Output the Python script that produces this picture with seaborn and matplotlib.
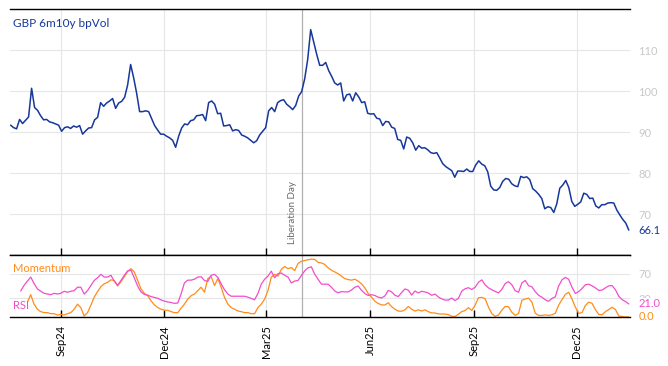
import matplotlib
matplotlib.use("Agg")
import matplotlib.pyplot as plt
import matplotlib.dates as mdates
import numpy as np
import pandas as pd
import seaborn as sns

# GBP 6m10y normal vol (roughly every 2-3 days)
vol = [
    91.7, 91.1, 90.8, 93.1, 92.1, 92.9, 93.7, 100.7, 96.0, 95.3, 94.0, 93.0, 93.1, 92.5,
    92.3, 92.0, 91.7, 90.2, 91.1, 91.3, 90.9, 91.5, 91.2, 91.6, 89.5, 90.3, 91.0, 91.1,
    93.0, 93.6, 97.2, 96.3, 97.1, 97.6, 98.2, 95.8, 97.1, 97.5, 98.5, 101.5, 106.5, 103.3,
    99.5, 95.0, 95.0, 95.2, 95.0, 93.3, 91.6, 90.5, 89.5, 89.5, 89.0,
    88.6, 88.0, 86.3, 89.0, 91.0, 92.0, 91.8, 92.8, 93.0, 94.0, 94.1, 94.3, 92.8, 97.2,
    97.6, 96.8, 94.5, 94.6, 91.5, 91.6, 91.8, 90.3, 90.6, 90.4, 89.3, 89.0, 88.6, 88.0,
    87.4, 87.9, 89.3, 90.2, 91.1, 95.2, 96.0, 95.0, 97.2, 97.7, 97.9, 96.8, 96.2, 95.5,
    96.5, 98.8, 99.9, 103.0, 107.7, 115.0, 112.0, 109.0, 106.3,
    106.3, 107.0, 105.0, 103.6, 102.0, 101.5, 102.0, 97.6, 99.1, 99.3, 97.6, 99.6, 98.6,
    97.2, 97.4, 94.6, 94.4, 94.5, 93.4, 93.2, 91.6, 92.6, 92.5, 91.2, 90.9, 88.2, 88.0,
    85.9, 88.8, 88.5, 87.4, 85.6, 86.7, 86.1, 86.2, 85.7, 85.0, 84.8, 85.0, 83.7, 82.3,
    81.6, 81.1, 80.6, 79.0, 80.5, 80.5, 80.4, 81.0,
    80.4, 80.4, 82.0, 83.0, 82.2, 81.8, 80.3, 76.8, 75.9, 75.8, 76.5, 78.0, 78.7, 78.5,
    77.4, 76.9, 76.7, 79.2, 78.9, 79.1, 78.4, 76.2, 75.6, 74.8, 73.8, 71.3, 71.8, 71.6,
    70.4, 72.5, 76.3, 77.1, 78.2, 76.5, 73.1, 71.9, 72.4, 73.0, 75.1, 74.8, 73.8, 73.9,
    72.0, 71.5, 72.3, 72.3, 72.7, 72.8, 72.7, 71.0, 69.8, 68.7, 67.8, 66.1,
]
vol_dates = pd.date_range("2024-07-18", "2026-01-16", periods=len(vol))

nan = np.nan
rsi = [
    nan, 42, 51, 58, 64.5, 54, 45.3, 41.5, 38.2, 37.1, 36.0, 38.2, 37.1, 38.2, 41.5, 39.9,
    41.5, 42.6, 48.1, 48, 37, 42.6, 50.8, 59.0, 63.4, 68.9, 64.5, 64.5, 67.3, 58, 51.3,
    59.0, 67.3, 74.4, 75.5, 63, 50, 40.4, 36.5, 35.2, 33.0, 31.6, 30.2, 27.5, 25.6, 24.2,
    23.4, 22, 22.5, 37.1, 55, 59.5, 59.5, 61, 64.5, 65, 59, 57.5, 67.3, 68.9, 64, 53.6,
    44, 37, 33.5, 33.5, 33.5, 33.5, 33.5, 32, 30, 27.8, 38, 53, 61, 66, 74, 63.4, 70.0,
    71.1, 67.3, 64.5, 55, 58, 59, 67, 74.5, 79.5, 81, 69,
    61, 53, 53, 53, 48, 42, 39, 41, 40.5, 40.5, 43.5, 48, 50, 43, 37.8, 34.8, 36, 34.7,
    32, 30.7, 34, 43, 40.6, 35, 33, 39.5, 45.3, 43.3, 35.4, 42, 38.8, 41.5, 40.4, 38.7,
    35, 37, 32.3, 29.2, 27.3, 27.2, 30.6, 26.5, 30, 41.7, 45.5, 47.3, 44.3, 48, 56, 60,
    52, 47, 44, 41.3, 39, 44.5, 54, 57.1, 52, 42.5, 40, 55, 59, 50.5, 48.7, 41, 35, 32,
    27.7, 25.3, 30, 32.5, 50, 60, 64, 61, 48, 38, 41, 46, 52, 53, 50.3, 47, 43, 43.4, 47,
    50.3, 50.7, 44, 33.5, 28, 25, 21.0,
]
momentum = [
    nan, nan, nan, 24, 36, 20.7, 12.5, 8.6, 7.0, 7.0, 5.3, 5.3, 3.1, 4.2, 3.1, 5.3, 7.0,
    12.5, 20.7, 15, 1.5, 7, 19, 32, 41, 49, 53.6, 56, 60, 59, 50, 57, 65, 73.5, 78, 72.7,
    59.0, 45.3, 38.2, 34.4, 26.2, 19.6, 15.2, 12.5, 10.8, 10.8, 8.6, 7.0, 7.0, 14.1, 20.7,
    28.9, 34.4, 37.1, 42.6, 48.1, 40, 62, 65.5, 50.8, 62, 48.1, 31.6, 20.7, 15.2, 12.5,
    9.7, 8.6, 7.0, 7.0, 5.3, 5.3, 15.2, 20.7, 28.9, 42.6, 64.5, 68.9, 66, 77, 81.5, 78,
    79.9, 75, 86.5, 90, 91.3, 92.5, 93.5, 93,
    88.2, 87.3, 85, 79.5, 75.6, 72.7, 70, 66, 62, 60.5, 59.5, 61, 58, 53.5, 47, 38, 32,
    25.5, 21.8, 19.5, 19.3, 23, 16.7, 12.4, 9.5, 9.2, 11.5, 17, 12.5, 9.5, 11.5, 9.5,
    11.5, 8.5, 6.6, 6.4, 5, 4.7, 4.7, 3.8, 1, 0.8, 4.3, 8.7, 10.3, 15, 10.5, 19, 31,
    31.7, 29.5, 16, 5.5, 1, 3.3, 11, 17, 16.5, 7.5, 2.6, 5.5, 27, 29, 30.5, 24, 6, 2.6,
    2.4, 3.4, 2.5, 3.4, 6, 19, 28, 36.5, 40, 29, 16, 5.8, 7, 18.5, 24, 22, 12, 4.2, 3.5,
    8.6, 12, 15.7, 12, 1.5, 0.8, 0.0, 0.0,
]
osc_dates = pd.date_range("2024-07-24", "2026-01-16", periods=len(rsi))

event_date = pd.Timestamp("2025-04-02")
event_label = "Liberation Day"
title = "GBP 6m10y bpVol"

BLUE = "#17379b"
ORANGE = "#ff8c1a"
PINK = "#f34dcc"
GRID = "#e6e6e6"
TICKGREY = "#c8c8c8"

sns.set_theme(style="white")
plt.rcParams["font.family"] = ["Lato", "DejaVu Sans"]

fig = plt.figure(figsize=(6.68, 3.66), dpi=100)
ax = fig.add_axes([0.015, 0.303, 0.928, 0.672])
ax2 = fig.add_axes([0.015, 0.134, 0.928, 0.169], sharex=ax)

vol_df = pd.DataFrame({"date": vol_dates, "vol": vol})
osc_df = pd.DataFrame({"date": osc_dates, "rsi": rsi, "momentum": momentum})

sns.lineplot(data=vol_df, x="date", y="vol", ax=ax, color=BLUE, linewidth=1.1)
sns.lineplot(data=osc_df, x="date", y="momentum", ax=ax2, color=ORANGE, linewidth=0.9)
sns.lineplot(data=osc_df, x="date", y="rsi", ax=ax2, color=PINK, linewidth=0.9)

for a in (ax, ax2):
    a.set_xlabel("")
    a.set_ylabel("")
    a.grid(True, color=GRID, linewidth=0.8)
    a.set_axisbelow(True)
    for s in ("left", "right"):
        a.spines[s].set_visible(False)
    for s in ("top", "bottom"):
        a.spines[s].set_visible(True)
        a.spines[s].set_color("black")
        a.spines[s].set_linewidth(1.0)
    a.yaxis.tick_right()
    a.tick_params(axis="y", length=0, labelsize=8, labelcolor=TICKGREY, pad=6)
    a.tick_params(axis="x", direction="in", length=5, width=1, color="black",
                  bottom=True, top=False)
    a.axvline(event_date, color="#b0b0b0", linewidth=0.9, zorder=1)

ax.set_xlim(pd.Timestamp("2024-07-17 12:00"), pd.Timestamp("2026-01-17"))
ax.xaxis.set_major_locator(mdates.MonthLocator(bymonth=[3, 6, 9, 12]))
ax.xaxis.set_major_formatter(mdates.DateFormatter("%b%y"))
ax.tick_params(axis="x", labelbottom=False)
ax2.tick_params(axis="x", labelsize=8, labelcolor="black", labelrotation=90, pad=6)

ax.set_ylim(60, 120)
ax.set_yticks([70, 80, 90, 100, 110])
ax2.set_ylim(0, 100)
ax2.set_yticks([30, 70])

ax.text(0.005, 0.94, title, transform=ax.transAxes, color=BLUE, fontsize=8.5,
        ha="left", va="center")
ax.text(event_date - pd.Timedelta(days=9), 62.8, event_label, rotation=90,
        color="#6a6a6a", fontsize=7, ha="center", va="bottom")
ax.annotate(f"{vol[-1]:.1f}", xy=(1, vol[-1]), xycoords=("axes fraction", "data"),
            xytext=(6, 0), textcoords="offset points", color=BLUE, fontsize=8,
            ha="left", va="center")

ax2.text(0.005, 0.78, "Momentum", transform=ax2.transAxes, color=ORANGE,
         fontsize=8, ha="left", va="center")
ax2.text(0.005, 0.19, "RSI", transform=ax2.transAxes, color=PINK,
         fontsize=8, ha="left", va="center")
# last-value labels sit over the grey tick labels, as in the source chart
ax2.annotate(f"{rsi[-1]:.1f}", xy=(1, rsi[-1]), xycoords=("axes fraction", "data"),
             xytext=(6, 0), textcoords="offset points", color=PINK, fontsize=8,
             ha="left", va="center",
             bbox=dict(facecolor="white", edgecolor="none", pad=0.3))
ax2.annotate(f"{momentum[-1]:.1f}", xy=(1, momentum[-1]),
             xycoords=("axes fraction", "data"), xytext=(6, 0),
             textcoords="offset points", color=ORANGE, fontsize=8,
             ha="left", va="center")

fig.savefig("out.png", dpi=100)
